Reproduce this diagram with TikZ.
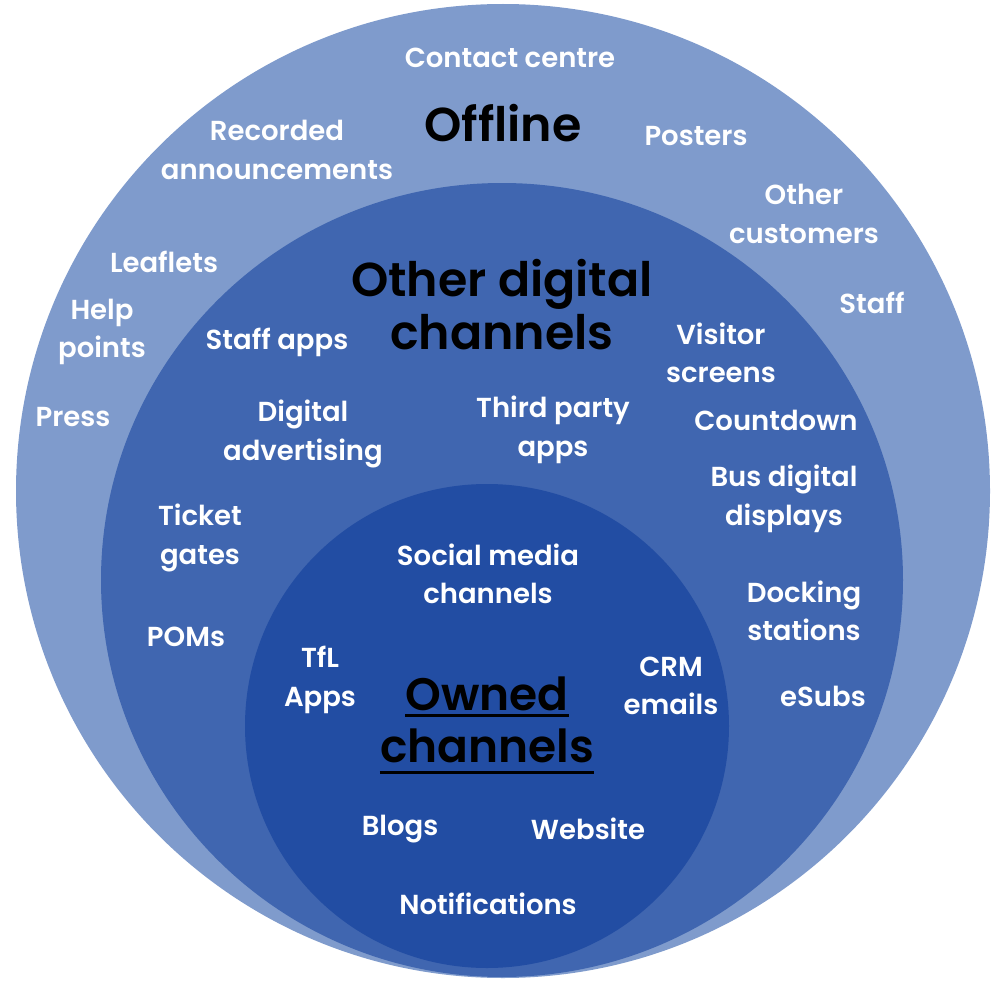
\documentclass[tikz,border=0pt]{standalone}
\usepackage{fontspec}
\setmainfont{Poppins}[BoldFont={Poppins SemiBold}]
\begin{document}
\begin{tikzpicture}[x=1pt,y=-1pt,
  lbl/.style={text=white, font=\bfseries\fontsize{27.5}{38.5}\selectfont, align=center, inner sep=0pt},
  ttl/.style={text=black, font=\bfseries\fontsize{47.5}{53}\selectfont, align=center, inner sep=0pt},
  own/.style={text=black, font=\bfseries\fontsize{45.5}{52}\selectfont, inner sep=0pt, anchor=base},
  uline/.style={line width=3pt, black}]
\definecolor{ringout}{RGB}{127,155,204}
\definecolor{ringmid}{RGB}{64,102,176}
\definecolor{ringin}{RGB}{34,77,163}
\useasboundingbox (0,0) rectangle (997,982);

% three nested rings
\fill[ringout] (503,491) circle [radius=487pt];
\fill[ringmid] (502,580) ellipse [x radius=401pt, y radius=397pt];
\fill[ringin]  (487,726) circle [radius=242pt];

% offline ring
\node[ttl] (offline) at (503,123) {Offline};
\node[lbl] (contact) at (510,58) {Contact centre};
\node[lbl] (recorded) at (277,150) {Recorded\\announcements};
\node[lbl] (posters) at (696,136) {Posters};
\node[lbl] (othercust) at (804,214) {Other\\customers};
\node[lbl] (leaflets) at (164,262) {Leaflets};
\node[lbl] (staff) at (872,303) {Staff};
\node[lbl] (help) at (102,332) {Help\\points};
\node[lbl] (press) at (73,417) {Press};

% other digital ring
\node[ttl] (digital) at (502,305) {Other digital\\channels};
\node[lbl] (staffapps) at (277,342) {Staff apps};
\node[lbl] (visitor) at (721,353) {Visitor\\screens};
\node[lbl] (advert) at (303,434) {Digital\\advertising};
\node[lbl] (thirdparty) at (553,430) {Third party\\apps};
\node[lbl] (countdown) at (776,420) {Countdown};
\node[lbl] (bus) at (784,499) {Bus digital\\displays};
\node[lbl] (ticket) at (200,538) {Ticket\\gates};
\node[lbl] (docking) at (804,611) {Docking\\stations};
\node[lbl] (poms) at (186,637) {POMs};
\node[lbl] (esubs) at (823,696) {eSubs};

% owned ring
\node[lbl] (social) at (488,574) {Social media\\channels};
\node[lbl] (tfl) at (320,680) {TfL\\Apps};
\node[lbl] (crm) at (671,686) {CRM\\emails};
\node[own] (owned) at (487,710) {Owned};
\node[own] (chan) at (487,762) {channels};
\draw[uline] ([yshift=-5pt]owned.base west) -- ([yshift=-5pt]owned.base east);
\draw[uline] ([yshift=-10pt]chan.base west) -- ([yshift=-10pt]chan.base east);
\node[lbl] (blogs) at (400,829) {Blogs};
\node[lbl] (website) at (588,829) {Website};
\node[lbl] (notif) at (488,904) {Notifications};
\end{tikzpicture}
\end{document}
